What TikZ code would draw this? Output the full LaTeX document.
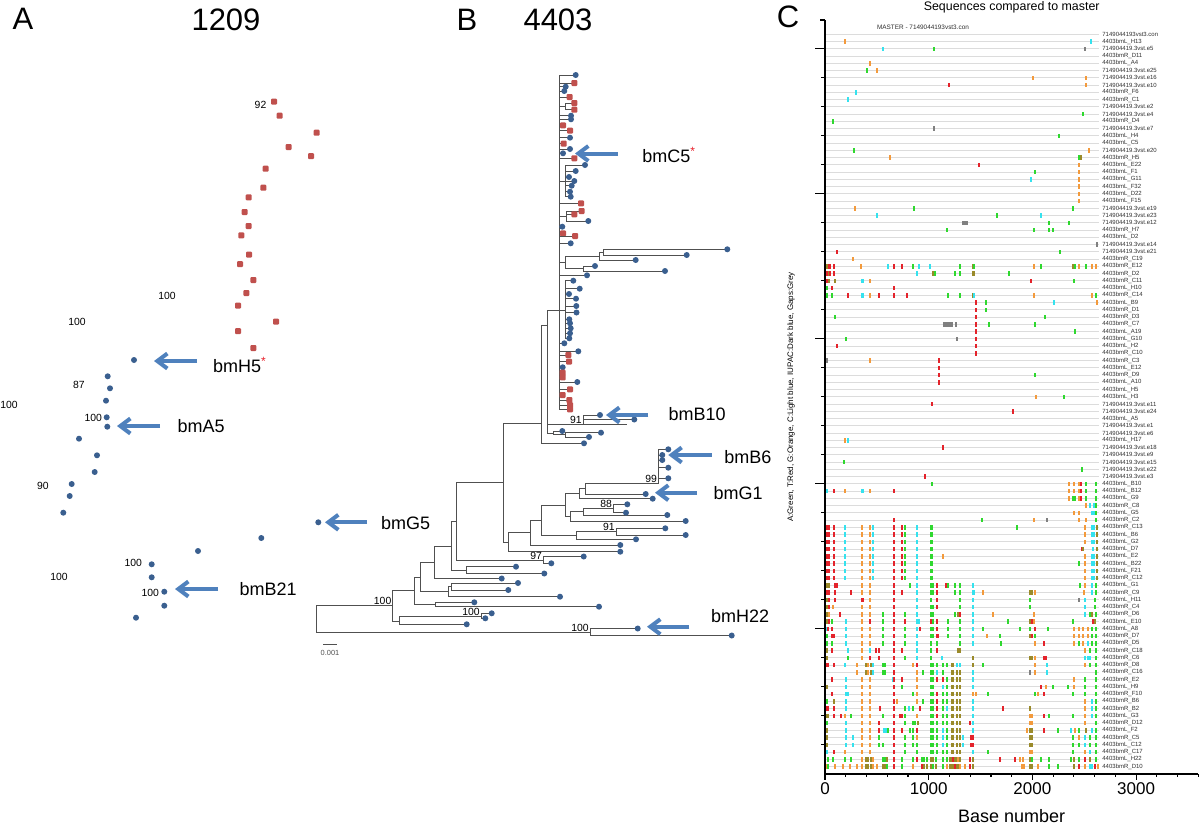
\documentclass[tikz,border=0pt]{standalone}
\usepackage{fontspec}
\setmainfont{Liberation Sans}
\usetikzlibrary{arrows.meta}
\definecolor{dotblue}{HTML}{3A5F8F}
\definecolor{dotred}{HTML}{C0504D}
\definecolor{arrowblue}{HTML}{4F81BD}
\definecolor{treegray}{HTML}{505050}
\definecolor{rowgray}{HTML}{DCDCDC}
\definecolor{labgray}{HTML}{303030}
\definecolor{mg}{HTML}{2FD82F}
\definecolor{mr}{HTML}{E4232B}
\definecolor{mo}{HTML}{F39A3C}
\definecolor{mc}{HTML}{35E2EE}
\definecolor{my}{HTML}{808080}
\definecolor{mk}{HTML}{9A8A2A}
\definecolor{starred}{HTML}{E8202A}
\newcommand\BDot[2]{\fill[dotblue] (#1,#2) circle (1.5pt);}
\newcommand\RSq[2]{\fill[dotred, rounded corners=0.5pt] (#1,#2) ++(-1.5pt,-1.5pt) rectangle ++(3pt,3pt);}
\newcommand\TipB[3]{\draw[treeline] (#1,#2) -- (#3,#2); \BDot{#3}{#2}}
\newcommand\TipR[3]{\draw[treeline] (#1,#2) -- (#3,#2); \RSq{#3}{#2}}
\newcommand\VL[3]{\draw[treeline] (#1,#2) -- (#1,#3);}
\newcommand\HL[3]{\draw[treeline] (#2,#1) -- (#3,#1);}
\newcommand\MRow[2]{\foreach \xpos/\xcol in {#2}{\fill[fill=m\xcol] ({780+\xpos/3-1.1},{34.3+(#1-1)*7.25-2.3}) rectangle ++(2.2,4.6);}}
\tikzset{
 treeline/.style={draw=treegray, line width=0.5pt, line cap=rect},
 barrow/.style={draw=arrowblue, line width=2pt, -{Straight Barb[length=5pt,width=7.5pt]}},
 boot/.style={font=\fontsize{5.2}{6}\selectfont, inner sep=0pt},
 slabel/.style={font=\fontsize{9}{10}\selectfont, anchor=west, inner sep=0pt},
 panel/.style={font=\fontsize{15.5}{17}\selectfont, inner sep=0pt},
 rowline/.style={draw=rowgray, line width=0.5pt},
 rowlab/.style={font=\fontsize{3}{3.5}\selectfont, anchor=west, inner sep=0pt, text=labgray},
 axisline/.style={draw=black, line width=0.6pt},
}
\begin{document}
\begin{tikzpicture}[x=0.5pt,y=-0.5pt]
\fill[white] (0,0) rectangle (1200,825);
\useasboundingbox (0,0) rectangle (1200,825);
% ---------------- panel titles
\node[panel] (pA) at (23,19) {A};
\node[panel] (tA) at (226,19.5) {1209};
\node[panel] (pB) at (467,19.5) {B};
\node[panel] (tB) at (558,19.5) {4403};
\node[panel] (pC) at (788,17) {C};
% ---------------- panel A
\foreach \px/\py in {274/101.7, 279.7/115.7, 316.7/132.7, 288.7/147, 311/156, 265.7/168.7, 263.3/187.7, 248.7/197.3, 244.7/212, 248.7/226, 241.3/235.3, 249/254.7, 240/264, 253.3/280, 246.3/293, 238/305.7, 276/321.7, 238/331, 253.3/348} {\RSq{\px}{\py}}
\foreach \px/\py in {134/360, 107.7/376.3, 110/388.3, 106/400.7, 106.7/417.3, 107.3/426.7, 79/438.7, 97/455.3, 94.7/472, 71.7/484, 69.7/496, 63.3/512.7, 318.3/522.3, 261.3/538, 198/551, 151.7/564.3, 151.7/577.3, 164.3/591.7, 164.3/605.7, 136/617.7} {\BDot{\px}{\py}}
\node[boot] (a92) at (260.5,104.5) {92};
\node[boot] (a100a) at (167,296) {100};
\node[boot] (a100b) at (77,322) {100};
\node[boot] (a87) at (79,385) {87};
\node[boot] (a100c) at (9,405) {100};
\node[boot] (a100d) at (93.3,417.5) {100};
\node[boot] (a90) at (43,486) {90};
\node[boot] (a100e) at (133.3,563.3) {100};
\node[boot] (a100f) at (59,577) {100};
\node[boot] (a100g) at (150.3,593.3) {100};
\coordinate (h5t) at (197,361); \coordinate (h5h) at (154,361);
\draw[barrow] (h5t) -- (h5h);
\node[slabel] (lH5) at (212.7,365) {bmH5\textcolor{starred}{\textsuperscript{*}}};
\coordinate (a5t) at (160,426); \coordinate (a5h) at (117,426);
\draw[barrow] (a5t) -- (a5h);
\node[slabel] (lA5) at (177.3,426.5) {bmA5};
\coordinate (g5t) at (367,522.3); \coordinate (g5h) at (325,522.3);
\draw[barrow] (g5t) -- (g5h);
\node[slabel] (lG5) at (380.7,522.7) {bmG5};
\coordinate (b21t) at (218,589); \coordinate (b21h) at (175,589);
\draw[barrow] (b21t) -- (b21h);
\node[slabel] (lB21) at (239.3,589.5) {bmB21};
% ---------------- panel B tree
\VL{316.7}{605.7}{632.7}
\HL{605.7}{316.7}{392.7} \HL{632.7}{316.7}{590}
\VL{590}{628.5}{635.5} \TipB{590}{628.5}{637.7} \TipB{590}{635.5}{731.7}
\VL{392.7}{590.7}{621} \HL{590.7}{392.7}{414} \HL{621}{392.7}{399.3}
\VL{399.3}{616.3}{624.3} \HL{616.3}{399.3}{481} \TipB{399.3}{624.3}{466.7}
\VL{481}{613.3}{618.3} \TipB{481}{613.3}{491.7} \TipB{481}{618.3}{485.3}
\VL{414}{577}{604.3} \HL{577}{414}{420} \HL{604.3}{414}{435}
\VL{435}{602.3}{606.7} \TipB{435}{602.3}{474.3} \TipB{435}{606.7}{599}
\VL{420}{562.7}{591.5} \HL{562.7}{420}{434} \HL{591.5}{420}{448.3}
\VL{448.3}{586.5}{596.7} \HL{586.5}{448.3}{451.7} \TipB{448.3}{596.7}{560}
\VL{451.7}{583}{590} \TipB{451.7}{583}{518} \TipB{451.7}{590}{508.3}
\VL{434}{546.7}{578.5} \HL{546.7}{434}{451.7} \TipB{434}{578.5}{501.7}
\VL{451.7}{521.5}{570} \HL{521.5}{451.7}{456.7} \HL{570}{451.7}{466.7}
\VL{466.7}{566.7}{573.5} \TipB{466.7}{566.7}{516} \TipB{466.7}{573.5}{544.3}
\VL{456.7}{482.7}{560} \HL{482.7}{456.7}{503.3} \HL{560}{456.7}{543.3}
\VL{543.3}{556.5}{563.3} \TipB{543.3}{556.5}{583.7} \TipB{543.3}{563.3}{551.3}
\VL{503.3}{423.3}{542} \HL{423.3}{503.3}{541.7} \HL{542}{503.3}{508.3}
\VL{508.3}{532.3}{551.7} \HL{532.3}{508.3}{530} \TipB{508.3}{551.7}{620.3}
\VL{530}{520}{545} \HL{520}{530}{541.7} \TipB{530}{545}{620.3}
\VL{541.7}{505}{535.4} \HL{505}{541.7}{565} \HL{535.4}{541.7}{576.7}
\VL{576.7}{531.5}{539.3} \HL{531.5}{576.7}{616} \TipB{576.7}{539.3}{636}
\VL{616}{528.3}{535} \TipB{616}{528.3}{665.3} \TipB{616}{535}{685.7}
\VL{565}{493.7}{516.4} \HL{493.7}{565}{579.3} \HL{516.4}{565}{570}
\VL{579.3}{488.7}{498.7} \HL{488.7}{579.3}{585} \TipB{579.3}{498.7}{652.7}
\VL{585}{483.3}{494} \HL{483.3}{585}{658.3} \TipB{585}{494}{645.7}
\VL{658.3}{449.3}{483.3}
\TipB{658.3}{449.3}{668.3} \TipB{658.3}{455}{662.3} \TipB{658.3}{460}{662.3} \TipB{658.3}{467.7}{668.3} \TipB{658.3}{478.3}{668.3}
\VL{570}{511.8}{521} \HL{511.8}{570}{583.3} \TipB{570}{521}{685.7}
\VL{583.3}{508.5}{515} \HL{508.5}{583.3}{613.3} \TipB{583.3}{515}{667.3}
\VL{613.3}{504.3}{512.7} \TipB{613.3}{504.3}{627.3} \TipB{613.3}{512.7}{626}
\VL{541.7}{325}{443.3} \HL{325}{541.7}{547} \TipB{541.7}{443.3}{584}
\VL{547}{310}{433} \HL{310}{547}{559.3} \HL{424}{547}{583} \HL{433}{547}{553.3}
\VL{583}{415}{424} \TipB{583}{415}{600} \TipB{583}{419.5}{634.3} \HL{424}{583}{626.7}
\VL{553.3}{431}{434.9} \TipB{553.3}{431}{562.3} \HL{434.9}{553.3}{565}
\VL{565}{432.7}{437} \TipB{565}{432.7}{601} \TipB{565}{437}{589}
\VL{559.3}{75}{409.3}
\VL{565}{103}{109.7} \HL{106.3}{559.3}{565}
\VL{565}{165}{196.7} \HL{181}{559.3}{565}
\VL{566}{211}{221} \HL{216}{559.3}{566}
\VL{565}{280.7}{338.3} \HL{310}{559.3}{565}
\HL{262}{559.3}{565} \VL{565}{256}{268.5}
\HL{256}{565}{599} \VL{599}{252.2}{260}
\HL{252.2}{599}{603.3} \VL{603.3}{249.3}{255}
\TipB{603.3}{249.3}{727.3} \TipB{603.3}{255}{686.7}
\TipB{599}{260}{635.7}
\HL{268.5}{565}{583.3} \VL{583.3}{266}{271}
\TipB{583.3}{266}{595} \TipB{583.3}{271}{665}
\foreach \yy/\sx/\dx/\cl in {75/559.3/575.7/B, 83/559.3/574.3/R, 86.7/559.3/565.7/B, 91/559.3/564.3/B, 97/559.3/569.7/R, 103/565/574.3/R, 109.7/565/574.3/R, 115.7/559.3/571/B, 119.3/559.3/571/B, 125.3/559.3/563/R, 130.7/559.3/570/R, 137.7/559.3/570/B, 143.7/559.3/563.7/R, 149/559.3/570/B, 153.3/559.3/563/B, 158.3/559.3/574.3/R, 165/565/585/B, 171/565/575.7/B, 177/565/569/B, 181/565/574.3/B, 185.7/565/571.7/B, 191.7/565/570/B, 196.7/565/570.7/B, 203.3/559.3/581/R, 211/566/581.7/R, 214.3/566/574.3/R, 221/566/588.3/B, 226.7/559.3/562.3/B, 233.3/559.3/563/R, 236/559.3/575/R, 243.3/559.3/570.7/B, 275.3/559.3/587/B, 280.7/565/573.3/B, 288.7/565/579.7/B, 294/565/569/B, 298.7/565/576/B, 306/565/576.3/B, 312.5/565/576.5/B, 319.3/565/569.3/B, 323.3/565/570/B, 328.3/565/570.7/B, 333.3/565/570/B, 338.3/565/569.3/B, 343.3/559.3/564.3/B, 351.3/559.3/578.3/B, 355/559.3/568.3/R, 361.7/559.3/569/R, 367.3/559.3/562.7/B, 372.7/559.3/562.7/R, 377.3/559.3/562.7/R, 382/559.3/577.3/B, 389.3/559.3/570/R, 395/559.3/562.7/R, 400/559.3/569.3/R, 405/559.3/570/R, 409.3/559.3/570/R} {\csname Tip\cl\endcsname{\sx}{\yy}{\dx}}
\node[boot, anchor=south east] (b100r) at (391.7,605.2) {100};
\node[boot, anchor=south east] (b100h) at (589,632.2) {100};
\node[boot, anchor=south east] (b100s) at (480,615.8) {100};
\node[boot, anchor=south east] (b97) at (542.3,559.5) {97};
\node[boot, anchor=south east] (b91b) at (615,531) {91};
\node[boot, anchor=south east] (b88) at (612.3,508) {88};
\node[boot, anchor=south east] (b99) at (657.3,482.8) {99};
\node[boot, anchor=south east] (b91a) at (582,423.5) {91};
\coordinate (sb1) at (323.3,644.3); \coordinate (sb2) at (336,644.3);
\draw[treeline] (sb1) -- (sb2);
\node[font=\fontsize{3.7}{4}\selectfont, text=treegray, inner sep=0pt] (sbl) at (330,652.7) {0.001};
\coordinate (c5t) at (618,153.5); \coordinate (c5h) at (575,153.5);
\draw[barrow] (c5t) -- (c5h);
\node[slabel] (lC5) at (642,155) {bmC5\textcolor{starred}{\textsuperscript{*}}};
\coordinate (b10t) at (648.3,415); \coordinate (b10h) at (606,415);
\draw[barrow] (b10t) -- (b10h);
\node[slabel] (lB10) at (668.3,414) {bmB10};
\coordinate (b6t) at (711.7,455); \coordinate (b6h) at (668.3,455);
\draw[barrow] (b6t) -- (b6h);
\node[slabel] (lB6) at (724,457.5) {bmB6};
\coordinate (g1t) at (697,492.7); \coordinate (g1h) at (655,492.7);
\draw[barrow] (g1t) -- (g1h);
\node[slabel] (lG1) at (713.3,492.7) {bmG1};
\coordinate (h22t) at (689.3,626.7); \coordinate (h22h) at (647,626.7);
\draw[barrow] (h22t) -- (h22h);
\node[slabel] (lH22) at (710.7,615.7) {bmH22};
% ---------------- panel C
\node[font=\fontsize{6.2}{7}\selectfont, inner sep=0pt] (ctitle) at (1011.7,7.5) {Sequences compared to master};
\node[font=\fontsize{3.2}{4}\selectfont, inner sep=0pt, text=labgray] (cmaster) at (923,27.3) {MASTER - 7149044193vst3.con};
\node[rotate=90, font=\fontsize{4}{5}\selectfont, inner sep=0pt] (ylab) at (791,397) {A:Green, T:Red, G:Orange, C:Light blue, IUPAC:Dark blue, Gaps:Grey};
\foreach \i in {1,...,102} {\draw[rowline] (825,{34.3+(\i-1)*7.25}) -- (1099.3,{34.3+(\i-1)*7.25});}
\foreach \i/\t in {1/7149044193vst3.con, 2/4403bmL\_H13, 3/714904419.3vst.e5, 4/4403bmR\_D11, 5/4403bmL\_A4, 6/714904419.3vst.e25, 7/714904419.3vst.e16, 8/714904419.3vst.e10, 9/4403bmR\_F6, 10/4403bmR\_C1, 11/714904419.3vst.e2, 12/714904419.3vst.e4, 13/4403bmR\_D4, 14/714904419.3vst.e7, 15/4403bmL\_H4, 16/4403bmL\_C5, 17/714904419.3vst.e20, 18/4403bmR\_H5, 19/4403bmL\_E22, 20/4403bmL\_F1, 21/4403bmL\_G11, 22/4403bmL\_F32, 23/4403bmL\_D22, 24/4403bmL\_F15, 25/714904419.3vst.e19, 26/714904419.3vst.e23, 27/714904419.3vst.e12, 28/4403bmR\_H7, 29/4403bmL\_D2, 30/714904419.3vst.e14, 31/714904419.3vst.e21, 32/4403bmR\_C19, 33/4403bmR\_E12, 34/4403bmR\_D2, 35/4403bmR\_C11, 36/4403bmL\_H10, 37/4403bmR\_C14, 38/4403bmL\_B9, 39/4403bmR\_D1, 40/4403bmR\_D3, 41/4403bmR\_C7, 42/4403bmL\_A19, 43/4403bmL\_G10, 44/4403bmL\_H2, 45/4403bmR\_C10, 46/4403bmR\_C3, 47/4403bmL\_E12, 48/4403bmR\_D9, 49/4403bmL\_A10, 50/4403bmL\_H5, 51/4403bmL\_H3, 52/714904419.3vst.e11, 53/714904419.3vst.e24, 54/4403bmL\_A5, 55/714904419.3vst.e1, 56/714904419.3vst.e6, 57/4403bmL\_H17, 58/714904419.3vst.e18, 59/714904419.3vst.e9, 60/714904419.3vst.e15, 61/714904419.3vst.e22, 62/714904419.3vst.e3, 63/4403bmL\_B10, 64/4403bmL\_B12, 65/4403bmL\_G9, 66/4403bmR\_C8, 67/4403bmL\_G5, 68/4403bmR\_C2, 69/4403bmR\_C13, 70/4403bmL\_B6, 71/4403bmL\_G2, 72/4403bmL\_D7, 73/4403bmL\_E2, 74/4403bmL\_B22, 75/4403bmL\_F21, 76/4403bmR\_C12, 77/4403bmL\_G1, 78/4403bmR\_C9, 79/4403bmL\_H11, 80/4403bmR\_C4, 81/4403bmR\_D6, 82/4403bmL\_E10, 83/4403bmL\_A8, 84/4403bmR\_D7, 85/4403bmR\_D5, 86/4403bmR\_C18, 87/4403bmR\_C6, 88/4403bmR\_D8, 89/4403bmR\_C16, 90/4403bmR\_E2, 91/4403bmL\_H9, 92/4403bmR\_F10, 93/4403bmR\_B6, 94/4403bmR\_B2, 95/4403bmL\_G3, 96/4403bmR\_D12, 97/4403bmL\_F2, 98/4403bmR\_C5, 99/4403bmL\_C12, 100/4403bmR\_C17, 101/4403bmL\_H22, 102/4403bmR\_D10} {\node[rowlab] (rl\i) at (1102,{34.3+(\i-1)*7.25}) {\t};}
\MRow{2}{195/o, 933/c}
\MRow{3}{308/c, 463/g, 915/y}
\MRow{5}{270/o}
\MRow{6}{260/g, 292/o}
\MRow{7}{760/o, 918/o}
\MRow{8}{506/r, 918/o}
\MRow{9}{228/c}
\MRow{10}{203/c}
\MRow{12}{910/g}
\MRow{13}{160/g}
\MRow{14}{463/y}
\MRow{15}{838/g}
\MRow{17}{223/g, 927/o}
\MRow{18}{330/o, 898/g, 902/k}
\MRow{19}{598/r, 898/o}
\MRow{20}{765/g, 898/o}
\MRow{21}{752/c, 898/o}
\MRow{22}{898/o}
\MRow{23}{898/o}
\MRow{24}{898/o}
\MRow{25}{225/o, 402/g, 878/g}
\MRow{26}{290/c, 650/g, 783/c}
\MRow{27}{550/y, 554/y, 558/y, 562/y, 807/g, 866/g}
\MRow{28}{500/g, 763/g, 807/g, 820/g}
\MRow{30}{950/y}
\MRow{31}{170/r, 841/g}
\MRow{32}{219/o}
\MRow{33}{140/k, 146/r, 150/r, 162/r, 244/o, 323/c, 343/r, 365/r, 399/g, 417/c, 450/c, 541/g, 578/k, 582/g, 763/o, 784/g, 880/k, 884/g, 897/o, 918/g, 935/o, 948/o}
\MRow{34}{140/r, 146/k, 150/r, 162/r, 410/c, 460/k, 465/g, 525/g, 541/g, 578/k, 582/k, 687/g}
\MRow{35}{140/r, 146/k, 165/k, 245/c, 250/c, 270/o, 753/r, 883/g}
\MRow{36}{140/g, 157/r, 343/r}
\MRow{37}{140/g, 157/g, 203/r, 245/c, 250/c, 270/o, 296/r, 343/r, 382/r, 505/g, 541/g, 578/k, 582/c, 763/o, 937/o, 948/g}
\MRow{38}{588/r, 619/g, 822/c, 952/o}
\MRow{39}{588/r, 619/g}
\MRow{40}{165/g, 588/r, 796/g}
\MRow{41}{492/y, 497/y, 502/y, 507/y, 512/y, 517/y, 527/y, 588/r, 628/g, 765/g}
\MRow{42}{588/r, 886/g}
\MRow{43}{199/g, 530/y, 588/r}
\MRow{44}{170/r, 588/r}
\MRow{45}{588/r}
\MRow{46}{140/y, 270/o, 478/r}
\MRow{47}{478/r}
\MRow{48}{478/r, 765/g}
\MRow{49}{478/r}
\MRow{51}{767/o, 853/g}
\MRow{52}{457/r}
\MRow{53}{698/r}
\MRow{57}{195/o, 203/c}
\MRow{58}{490/r}
\MRow{60}{193/g}
\MRow{61}{907/g}
\MRow{62}{435/r}
\MRow{63}{457/g, 866/o, 883/o, 897/o, 902/r, 918/g, 948/g}
\MRow{64}{140/c, 163/r, 195/o, 245/c, 250/c, 270/o, 343/r, 866/o, 883/o, 897/o, 902/r, 918/g, 948/g}
\MRow{65}{866/o, 880/g, 884/g, 897/o, 902/r, 918/g, 948/g}
\MRow{66}{918/o, 930/c, 942/c, 948/g}
\MRow{67}{883/o, 897/o, 935/c, 942/c, 948/g}
\MRow{68}{343/r, 607/g, 763/o, 800/y, 897/o, 918/o, 948/g}
\foreach \rr in {69,70,71,73,74,75,76} {\MRow{\rr}{140/r, 146/r, 163/r, 195/c, 245/o, 270/o, 278/c, 343/r, 365/r, 375/g, 412/c, 452/g, 457/g, 915/o, 937/c, 942/c, 952/k}}
\MRow{69}{712/g}
\MRow{72}{140/r, 146/r, 163/r, 195/c, 245/o, 270/o, 278/c, 343/r, 365/r, 375/g, 412/c, 452/g, 457/g, 905/r, 910/k, 940/c, 952/k}
\MRow{73}{490/o}
\MRow{74}{898/g}
\MRow{77}{140/k, 146/k, 165/r, 170/r, 245/o, 270/o, 343/r, 390/g, 412/c, 452/g, 460/g, 470/r, 498/r, 505/g, 525/g, 541/g, 580/c, 900/g, 915/o, 937/c, 948/g}
\MRow{78}{140/r, 146/r, 165/r, 212/r, 245/o, 270/o, 343/r, 365/r, 412/c, 452/g, 460/g, 470/r, 525/g, 541/g, 578/c, 582/c, 608/o, 750/k, 757/k, 765/o, 912/o, 937/c, 948/g}
\MRow{79}{140/k, 146/r, 165/r, 245/r, 250/r, 270/o, 343/r, 412/c, 452/g, 470/r, 541/g, 580/c, 750/g, 898/y, 915/c, 945/g}
\MRow{80}{140/k, 146/r, 160/o, 245/o, 270/o, 343/r, 412/c, 452/g, 460/g, 470/r, 541/g, 580/c, 750/g, 915/c, 945/g}
\MRow{81}{140/k, 148/o, 180/r, 245/o, 270/o, 308/g, 343/r, 375/g, 412/c, 452/g, 460/g, 525/g, 535/k, 540/r, 580/c, 640/o, 763/o, 915/c, 930/g, 937/k, 948/g}
\MRow{82}{140/k, 148/r, 157/g, 198/c, 245/o, 270/r, 308/g, 343/r, 375/r, 412/c, 417/c, 452/r, 460/g, 470/r, 505/g, 541/g, 580/c, 683/g, 750/k, 757/r, 763/o, 880/g, 940/r, 945/k}
\MRow{83}{140/c, 145/r, 157/r, 198/c, 245/o, 270/o, 308/g, 343/r, 375/g, 412/c, 420/r, 452/g, 460/g, 470/r, 505/g, 541/g, 580/c, 608/g, 720/g, 750/g, 765/r, 803/g, 883/o, 897/o, 910/o, 925/o, 937/g, 948/g}
\MRow{84}{140/g, 157/r, 163/r, 198/c, 245/o, 270/o, 308/g, 343/r, 375/g, 412/c, 452/g, 460/g, 470/r, 474/r, 505/g, 541/g, 580/c, 620/o, 660/g, 750/k, 757/r, 765/g, 883/o, 897/o, 910/o, 925/o, 937/g, 948/g}
\MRow{85}{140/g, 157/g, 198/c, 245/o, 270/o, 308/g, 343/r, 375/g, 412/c, 452/g, 470/g, 541/g, 580/c, 662/g, 765/o, 793/r, 883/o, 897/g, 910/o, 925/c, 937/g, 948/g}
\MRow{86}{140/k, 157/r, 203/c, 245/o, 270/c, 287/r, 297/r, 343/r, 365/r, 412/c, 452/g, 470/r, 535/k, 540/k, 915/o, 930/g, 948/g}
\MRow{87}{140/k, 205/g, 245/o, 270/r, 296/r, 343/r, 375/g, 412/c, 452/g, 487/c, 580/k, 750/k, 757/k, 765/o, 793/r, 797/r, 915/c, 925/c, 930/c, 948/g}
\MRow{88}{140/r, 145/r, 163/r, 195/c, 230/o, 258/k, 265/o, 272/k, 280/c, 308/g, 315/g, 343/r, 400/o, 412/r, 452/g, 460/g, 470/g, 488/g, 500/g, 515/k, 520/k, 530/c, 540/c, 580/k, 608/g, 765/o, 800/c, 915/o, 930/g, 948/g}
\MRow{89}{230/o, 258/k, 265/o, 272/k, 280/c, 308/g, 315/g, 343/r, 412/o, 430/g, 452/g, 460/g, 470/c, 488/g, 515/k, 520/k, 530/k, 540/k, 580/c, 750/y, 765/o, 800/c, 948/g}
\MRow{90}{157/r, 198/c, 245/o, 270/o, 340/c, 343/r, 365/r, 412/o, 452/g, 460/g, 470/r, 488/r, 500/g, 515/k, 520/k, 530/k, 540/k, 580/c, 883/o, 915/g, 948/g}
\MRow{91}{140/k, 198/c, 245/o, 270/o, 343/r, 365/g, 412/o, 452/g, 460/g, 488/c, 500/g, 515/k, 520/k, 530/k, 540/k, 580/c, 783/r, 797/o, 820/g, 865/g, 883/o, 915/g, 948/g}
\MRow{92}{157/r, 198/c, 205/c, 245/o, 270/o, 343/r, 400/g, 412/o, 452/g, 460/g, 470/r, 488/g, 500/g, 515/k, 520/k, 530/k, 540/k, 580/o, 588/o, 625/g, 765/g, 775/o, 793/r, 880/g, 915/g, 948/g}
\MRow{93}{140/g, 163/k, 198/c, 245/o, 270/o, 343/r, 350/o, 412/o, 428/g, 452/g, 460/g, 470/r, 488/g, 500/g, 515/k, 520/k, 530/k, 540/k, 580/c, 915/o, 937/c, 948/g}
\MRow{94}{140/r, 145/r, 163/r, 198/c, 245/o, 270/o, 300/r, 343/r, 375/g, 388/c, 400/g, 420/r, 452/g, 460/g, 470/r, 488/g, 500/c, 515/k, 520/k, 530/k, 540/k, 580/c, 668/r, 750/k, 915/o, 937/c, 948/g}
\MRow{95}{140/k, 145/k, 163/r, 183/r, 195/o, 212/g, 245/o, 270/o, 308/g, 343/r, 360/r, 365/r, 375/g, 412/o, 452/g, 460/g, 470/r, 488/g, 500/g, 515/k, 520/k, 530/k, 540/k, 580/c, 750/o, 757/o, 793/r, 808/g, 880/g, 915/o, 937/c, 948/g}
\MRow{96}{140/g, 198/c, 245/o, 270/o, 296/r, 343/r, 375/g, 400/g, 405/g, 415/k, 452/g, 460/g, 470/g, 488/g, 500/g, 515/k, 520/k, 530/k, 540/k, 570/r, 580/c, 750/o, 757/o, 915/o, 948/g}
\MRow{97}{140/k, 198/c, 245/o, 270/o, 296/r, 312/c, 318/c, 324/g, 343/r, 365/r, 390/g, 398/g, 412/r, 452/g, 460/g, 470/g, 488/c, 500/g, 515/k, 520/k, 530/k, 540/k, 580/c, 740/o, 750/k, 757/k, 793/r, 835/g, 873/c, 885/o, 897/g, 918/k, 937/c, 948/g}
\MRow{98}{140/k, 198/c, 220/c, 245/o, 270/o, 296/g, 343/r, 375/g, 400/g, 412/o, 452/g, 460/g, 470/g, 488/c, 500/g, 515/k, 520/k, 530/k, 540/k, 550/c, 573/r, 578/r, 750/k, 757/k, 880/g, 897/o, 915/c, 930/g, 948/g}
\MRow{99}{140/k, 198/c, 220/c, 245/o, 270/o, 296/g, 308/g, 343/r, 375/g, 400/g, 412/g, 452/g, 460/g, 470/g, 488/c, 500/g, 515/k, 520/k, 530/k, 540/k, 550/c, 573/r, 578/r, 750/k, 757/k, 880/g, 897/g, 915/c, 930/g, 948/g}
\MRow{100}{140/c, 163/r, 195/o, 245/o, 270/o, 343/r, 375/g, 412/g, 452/g, 460/g, 470/g, 488/g, 500/g, 515/k, 520/k, 530/k, 540/k, 580/c, 625/g, 750/o, 757/o, 878/g, 915/o, 930/c, 948/g}
\MRow{101}{145/g, 160/g, 195/g, 212/g, 245/o, 258/k, 265/k, 272/k, 280/o, 308/g, 315/g, 320/k, 343/r, 365/g, 400/g, 412/r, 425/g, 432/g, 440/g, 452/k, 460/k, 468/g, 488/g, 500/g, 510/k, 515/k, 520/r, 525/k, 530/k, 535/o, 540/k, 570/r, 580/k, 660/r, 705/r, 720/o, 728/o, 750/k, 757/g, 783/g, 808/g, 872/g, 883/k, 897/g, 915/r, 930/k, 948/g}
\MRow{102}{140/o, 145/g, 165/o, 190/o, 210/o, 230/o, 245/o, 258/k, 265/k, 272/k, 280/o, 290/o, 308/k, 315/k, 320/g, 343/r, 365/g, 400/o, 425/r, 432/k, 440/k, 452/k, 460/g, 468/k, 488/g, 500/o, 510/k, 515/k, 520/k, 525/r, 530/k, 535/k, 540/o, 555/o, 570/r, 580/k, 725/o, 732/o, 750/k, 757/k, 775/o, 808/g, 835/g, 883/k, 897/r, 915/o, 930/c, 937/c, 945/r, 955/o}
\coordinate (ax0) at (825,20); \coordinate (ax1) at (825,774); \coordinate (ax2) at (1198,774);
\draw[axisline] (ax0) -- (ax1) -- (ax2);
\draw[axisline] (820,20) -- (825,20);
\foreach \k in {0,...,24} {\draw[axisline] (821,{48.8+29*\k}) -- (825,{48.8+29*\k});}
\foreach \k in {0,5,10,15,20} {\draw[axisline] (815,{48.8+29*\k}) -- (825,{48.8+29*\k});}
\foreach \b in {0,200,...,3600} {\draw[axisline] ({825+\b*0.1037},774) -- ({825+\b*0.1037},777);}
\foreach \b in {0,1000,2000,3000} {\draw[axisline] ({825+\b*0.1037},774) -- ({825+\b*0.1037},780);}
\foreach \b/\nm in {0/t0,1000/t1,2000/t2,3000/t3} {\node[font=\fontsize{8.5}{10}\selectfont, inner sep=0pt] (\nm) at ({825+\b*0.1037},789) {\b};}
\node[font=\fontsize{9}{10}\selectfont, inner sep=0pt] (xlab) at (1011.7,816) {Base number};
\end{tikzpicture}
\end{document}
